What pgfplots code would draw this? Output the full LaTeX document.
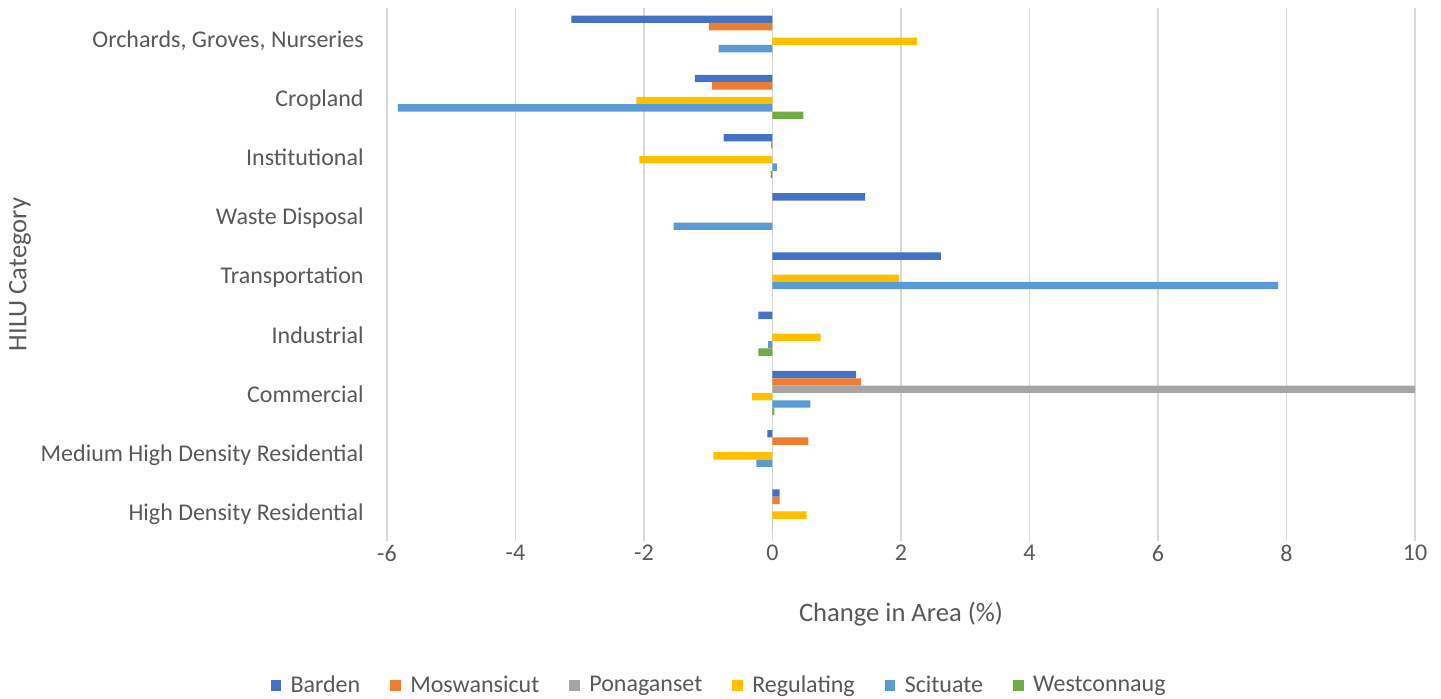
\documentclass[border=0pt]{standalone}
\usepackage{pgfplots}
\usepackage{pgfplotstable}
\usepackage{fontspec}
\setmainfont{Carlito}
\pgfplotsset{compat=1.18}

\definecolor{cBarden}{HTML}{4472C4}
\definecolor{cMos}{HTML}{ED7D31}
\definecolor{cPona}{HTML}{A5A5A5}
\definecolor{cReg}{HTML}{FFC000}
\definecolor{cSci}{HTML}{5B9BD5}
\definecolor{cWest}{HTML}{70AD47}
\definecolor{txtc}{HTML}{595959}
\definecolor{gridc}{HTML}{D9D9D9}

% rows: 0 = High Density Residential ... 8 = Orchards, Groves, Nurseries
\pgfplotstableread{
idx Barden Mos  Pona  Reg   Sci   West
0   0.11   0.11 0     0.53  0     0
1   -0.08  0.56 0     -0.92 -0.25 0
2   1.30   1.38 10.05 -0.32 0.59  0.03
3   -0.22  0    0     0.75  -0.07 -0.22
4   2.62   0    0     1.97  7.87  0
5   1.44   0    0     0     -1.54 0
6   -0.76  -0.02 0    -2.07 0.07  -0.03
7   -1.21  -0.94 0    -2.12 -5.83 0.48
8   -3.13  -0.99 0    2.25  -0.84 0
}\hilu

\begin{document}
\begin{tikzpicture}
\useasboundingbox (-193.5pt,-78.5pt) rectangle (527pt,270.5pt);
\begin{axis}[
	at={(0,0)}, anchor=south west,
	scale only axis,
	width=514pt, height=266.5pt,
	xmin=-6, xmax=10,
	ymin=-0.5, ymax=8.5,
	xtick={-6,-4,...,10},
	xticklabels={-6,-4,-2,0,2,4,6,8,10},
	ytick={0,...,8},
	yticklabels={High Density Residential, Medium High Density Residential, Commercial, Industrial, Transportation, Waste Disposal, Institutional, Cropland, {Orchards, Groves, Nurseries}},
	xmajorgrids=true, ymajorgrids=false,
	grid style={draw=gridc, line width=0.75pt},
	axis line style={draw=none},
	major tick length=0pt,
	tick label style={text=txtc, font=\fontsize{12}{14}\selectfont},
	xticklabel style={anchor=center, yshift=-6pt},
	yticklabel style={anchor=mid east, inner sep=0pt, xshift=-11.5pt, yshift=-2.3pt},
	xlabel={Change in Area (\%)},
	ylabel={HILU Category},
	label style={text=txtc, font=\fontsize{13.3}{15}\selectfont},
	xlabel style={at={(axis description cs:0.5,-0.137)}, anchor=center},
	ylabel style={at={(axis description cs:-0.357,0.5)}, anchor=center},
	legend columns=6,
	legend style={at={(axis description cs:0.324,-0.271)}, anchor=center, draw=none,
		font=\fontsize{12}{14}\selectfont, text=txtc,
		/tikz/every even column/.append style={column sep=13pt}},
	legend image code/.code={\fill[#1] (0pt,-2.6pt) rectangle (5.2pt,2.6pt); \path (8pt,0pt);},
]
\addplot[xbar, bar width=3.675pt, bar shift=9.19pt, fill=cBarden, draw=none] table[x=Barden, y=idx] {\hilu};
\addplot[xbar, bar width=3.675pt, bar shift=5.51pt, fill=cMos, draw=none] table[x=Mos, y=idx] {\hilu};
\addplot[xbar, bar width=3.675pt, bar shift=1.84pt, fill=cPona, draw=none] table[x=Pona, y=idx] {\hilu};
\addplot[xbar, bar width=3.675pt, bar shift=-1.84pt, fill=cReg, draw=none] table[x=Reg, y=idx] {\hilu};
\addplot[xbar, bar width=3.675pt, bar shift=-5.51pt, fill=cSci, draw=none] table[x=Sci, y=idx] {\hilu};
\addplot[xbar, bar width=3.675pt, bar shift=-9.19pt, fill=cWest, draw=none] table[x=West, y=idx] {\hilu};
\legend{Barden, Moswansicut, Ponaganset, Regulating, Scituate, Westconnaug}
\end{axis}
\end{tikzpicture}
\end{document}
